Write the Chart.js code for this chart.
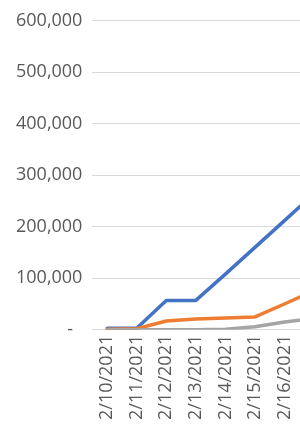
<!DOCTYPE html>
<html>
<head>
<meta charset="utf-8">
<script src="https://cdn.jsdelivr.net/npm/chart.js@4"></script>
<style>
  html, body { margin: 0; padding: 0; background: #fff; overflow: hidden; }
  #wrap { width: 341px; height: 425px; }
</style>
</head>
<body>
<div id="wrap"><canvas id="chart1" width="341" height="425"></canvas></div>
<script>
// data (last day runs past the right edge)
const dates = ['2/10/2021', '2/11/2021', '2/12/2021', '2/13/2021', '2/14/2021', '2/15/2021', '2/16/2021', '2/17/2021'];
const blueSeries = [3000, 3000, 57000, 57000, 108000, 160000, 212000, 264000];
const orangeSeries = [1000, 2000, 17000, 21000, 23000, 25000, 50000, 76000];
const graySeries = [0, 0, 0, 0, 1000, 6000, 15000, 22000];
const yTicks = [0, 100000, 200000, 300000, 400000, 500000, 600000];

const textColor = '#595959';
const gridColor = '#d9d9d9';

function lineSet(values, color, order) {
    return {
        data: values,
        borderColor: color,
        backgroundColor: color,
        borderWidth: 3.5,
        borderJoinStyle: 'round',
        borderCapStyle: 'round',
        pointRadius: 0,
        tension: 0,
        fill: false,
        order: order
    };
}

var ctx = document.getElementById('chart1').getContext('2d');
new Chart(ctx, {
    type: 'line',
    data: {
        labels: dates,
        datasets: [
            lineSet(blueSeries, '#4472c4', 3),
            lineSet(orangeSeries, '#ed7d31', 2),
            lineSet(graySeries, '#a5a5a5', 1)
        ]
    },
    options: {
        responsive: false,
        animation: false,
        layout: { padding: { top: 13, left: 6, right: 6, bottom: 0 } },
        plugins: {
            legend: { display: false },
            tooltip: { enabled: false }
        },
        scales: {
            x: {
                offset: true,
                grid: { display: false, drawTicks: false },
                border: { display: false },
                ticks: {
                    color: textColor,
                    font: { family: 'Open Sans', size: 18 },
                    minRotation: 90,
                    maxRotation: 90,
                    autoSkip: false,
                    padding: 5
                }
            },
            y: {
                min: 0,
                max: 600000,
                afterBuildTicks: (scale) => { scale.ticks = yTicks.map(v => ({ value: v })); },
                grid: { color: gridColor, lineWidth: 1, drawTicks: false },
                border: { display: false },
                ticks: {
                    color: textColor,
                    font: { family: 'Open Sans', size: 18 },
                    padding: 10,
                    callback: (v) => v === 0 ? '-  ' : v.toLocaleString('en-US')
                }
            }
        }
    }
});
</script>
</body>
</html>
